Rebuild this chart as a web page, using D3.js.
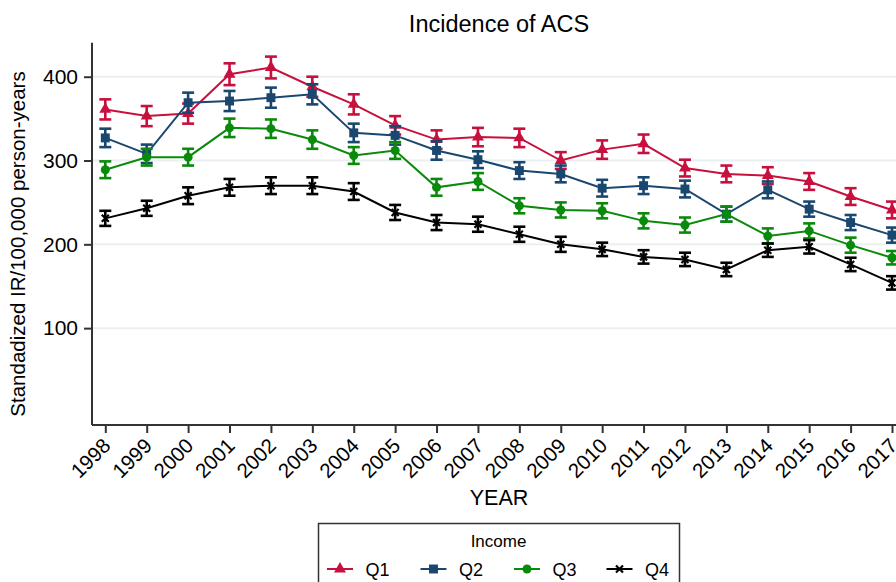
<!DOCTYPE html>
<html>
<head>
<meta charset="utf-8">
<script src="https://cdn.jsdelivr.net/npm/d3@7"></script>
<style>
  html, body { margin: 0; padding: 0; background: #fff; }
  svg { display: block; font-family: Arial, "Liberation Sans", Helvetica, sans-serif; }
</style>
</head>
<body>
<svg id="chart" width="896" height="582"></svg>
<script>
const years = [1998,1999,2000,2001,2002,2003,2004,2005,2006,2007,2008,2009,2010,2011,2012,2013,2014,2015,2016,2017];
const q1 = [361,353,356,403,411,388,367,342,325,328,327,300,313,320,291,284,282,275,257,241];
const q2 = [327,308,369,371,375,379,333,330,312,301,288,284,267,270,266,236,265,242,226,211];
const q3 = [289,304,304,339,338,325,306,312,268,275,246,241,240,228,223,236,210,216,199,184];
const q4 = [231,243,258,268,270,270,263,238,226,224,212,200,194,185,182,170,193,197,176,154];
const q1ci = [12,12,12,13,13,12,12,11,11,11,11,10,11,11,10,10,10,10,10,10];
const q2ci = [11,11,12,12,12,12,11,11,11,10,10,10,10,10,10,9,10,9,9,9];
const q3ci = [10,10,10,11,11,11,10,10,10,10,9,9,9,9,9,9,9,9,9,8];
const q4ci = [9,9,10,10,10,10,10,9,9,9,9,9,8,8,8,8,8,8,8,8];
const seriesNames = ["Q1","Q2","Q3","Q4"];
const yTicks = [100,200,300,400];
const colors = ["#c8103e","#1a476f","#0a8a0a","#000000"];
const symbols = [d3.symbolTriangle, d3.symbolSquare, d3.symbolCircle, d3.symbolCross];

const series = [q1,q2,q3,q4].map((vals,i)=>({
  name: seriesNames[i], color: colors[i], symbol: symbols[i],
  pts: years.map((y,j)=>({year:y, v:vals[j], ci:[q1ci,q2ci,q3ci,q4ci][i][j]}))
}));

const svg = d3.select("#chart");
const x = d3.scaleLinear().domain([1998,2017]).range([105.3,892]);
const y = d3.scaleLinear().domain([-15.6,440.6]).range([425,42.7]);
const xLeft = 92, xRight = 910;
const FF = "Arial, 'Liberation Sans', sans-serif";

// gridlines
svg.append("g").selectAll("line").data(yTicks).join("line")
  .attr("x1", xLeft).attr("x2", xRight)
  .attr("y1", d=>y(d)).attr("y2", d=>y(d))
  .attr("stroke", "#eaf0f2").attr("stroke-width", 2);

// title
svg.append("text").attr("x", 499).attr("y", 32).attr("text-anchor","middle")
  .attr("font-size", 23.5).attr("fill","#000").text("Incidence of ACS");

// y axis
const yAxis = d3.axisLeft(y).tickValues(yTicks).tickSize(8).tickPadding(6);
const gy = svg.append("g").attr("transform",`translate(${xLeft},0)`).call(yAxis);
gy.select(".domain").remove();
gy.append("line").attr("x1",0).attr("x2",0).attr("y1",42.7).attr("y2",425)
  .attr("stroke","#333").attr("stroke-width",2);
gy.selectAll(".tick line").attr("stroke","#333").attr("stroke-width",2);
gy.selectAll(".tick text").attr("font-size",21).attr("fill","#000").attr("font-family",FF);

svg.append("text").attr("transform","translate(25,244) rotate(-90)")
  .attr("text-anchor","middle").attr("font-size",20.5).attr("fill","#000")
  .text("Standadized IR/100,000 person-years");

// x axis
const xAxis = d3.axisBottom(x).tickValues(years).tickFormat(d3.format("d")).tickSize(8);
const gx = svg.append("g").attr("transform",`translate(0,425)`).call(xAxis);
gx.select(".domain").remove();
gx.append("line").attr("x1",xLeft).attr("x2",xRight).attr("y1",0).attr("y2",0)
  .attr("stroke","#333").attr("stroke-width",2);
gx.selectAll(".tick line").attr("stroke","#333").attr("stroke-width",2);
gx.selectAll(".tick text").attr("font-size",20.5).attr("fill","#000")
  .attr("font-family",FF)
  .attr("text-anchor","end").attr("dy",null).attr("y",null)
  .attr("transform","translate(6,22) rotate(-45)");

svg.append("text").attr("x",499).attr("y",505).attr("text-anchor","middle")
  .attr("font-size",21.5).attr("fill","#000").text("YEAR");

// series
const line = d3.line().x(d=>x(d.year)).y(d=>y(d.v));
series.forEach(s=>{
  const g = svg.append("g");
  const eb = g.append("g").attr("stroke", s.color).attr("stroke-width", 2.6).attr("fill","none");
  eb.selectAll("line.v").data(s.pts).join("line").attr("class","v")
    .attr("x1",d=>x(d.year)).attr("x2",d=>x(d.year))
    .attr("y1",d=>y(d.v-d.ci)).attr("y2",d=>y(d.v+d.ci));
  eb.selectAll("line.t").data(s.pts).join("line").attr("class","t")
    .attr("x1",d=>x(d.year)-6).attr("x2",d=>x(d.year)+6)
    .attr("y1",d=>y(d.v+d.ci)).attr("y2",d=>y(d.v+d.ci));
  eb.selectAll("line.b").data(s.pts).join("line").attr("class","b")
    .attr("x1",d=>x(d.year)-6).attr("x2",d=>x(d.year)+6)
    .attr("y1",d=>y(d.v-d.ci)).attr("y2",d=>y(d.v-d.ci));
  g.append("path").datum(s.pts).attr("d", line).attr("fill","none")
    .attr("stroke", s.color).attr("stroke-width", 2);
  drawMarkers(g, s, s.pts.map(d=>[x(d.year), y(d.v)]));
});

function drawMarkers(g, s, coords){
  const idx = seriesNames.indexOf(s.name);
  if (idx === 3) {
    g.selectAll("path.m").data(coords).join("path").attr("class","m")
      .attr("transform", d=>`translate(${d[0]},${d[1]})`)
      .attr("d","M-3.5,-3.5L3.5,3.5M-3.5,3.5L3.5,-3.5")
      .attr("stroke", s.color).attr("stroke-width", 2.2).attr("fill","none");
  } else {
    const size = idx===0 ? 62 : (idx===1 ? 80 : 64);
    g.selectAll("path.m").data(coords).join("path").attr("class","m")
      .attr("transform", d=>`translate(${d[0]},${d[1]})`)
      .attr("d", d3.symbol().type(s.symbol).size(size))
      .attr("fill", s.color);
  }
}

// legend
const lg = svg.append("g");
lg.append("rect").attr("x",318.5).attr("y",523.5).attr("width",361).attr("height",80)
  .attr("fill","#fff").attr("stroke","#333").attr("stroke-width",1.5);
lg.append("text").attr("x",498.5).attr("y",547).attr("text-anchor","middle")
  .attr("font-size",17).attr("fill","#000").text("Income");
const legX = [327, 420.5, 514, 606.5];
series.forEach((s,i)=>{
  const lx = legX[i], ly = 569;
  lg.append("line").attr("x1",lx).attr("x2",lx+26).attr("y1",ly).attr("y2",ly)
    .attr("stroke",s.color).attr("stroke-width",2);
  drawMarkers(lg.append("g"), s, [[lx+13, ly]]);
  lg.append("text").attr("x",lx+38.5).attr("y",ly+6.5).attr("font-size",18).attr("fill","#000").text(s.name);
});
</script>
</body>
</html>
